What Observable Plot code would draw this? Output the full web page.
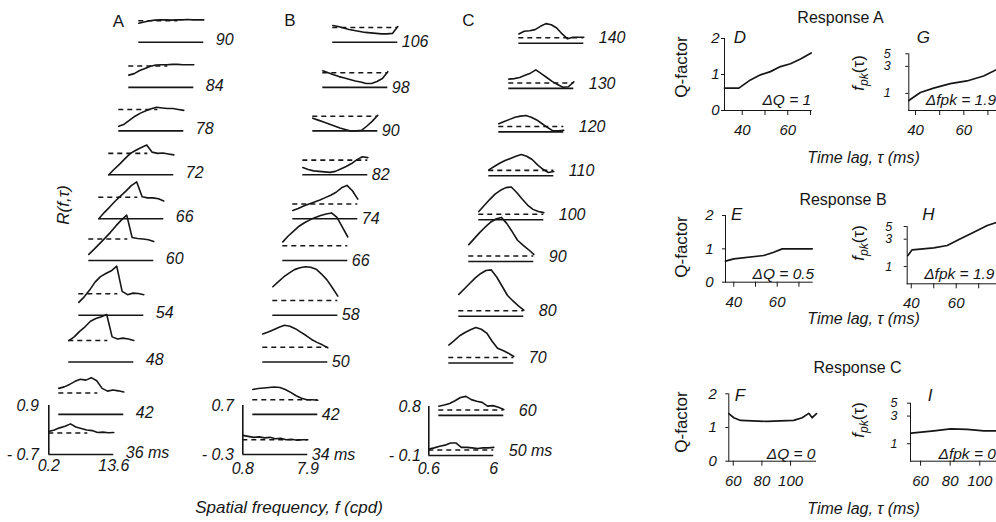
<!DOCTYPE html>
<html><head><meta charset="utf-8">
<script src="https://cdn.jsdelivr.net/npm/d3@7"></script>
<script src="https://cdn.jsdelivr.net/npm/@observablehq/plot@0.6"></script>
<style>
html,body{margin:0;padding:0;background:#fff;overflow:hidden}
#chart{position:relative;width:996px;height:522px;overflow:hidden;font-family:"Liberation Sans",Arial,Helvetica,sans-serif;color:#161616;background:#fff}
#chart svg{position:absolute;left:0;top:0}
.lbl{position:absolute;white-space:nowrap;line-height:1}
.lbl sub{font-size:0.72em;vertical-align:-0.3em}
</style></head><body><div id="chart"></div>
<script>
// ---------- data: stacked spatial-frequency tuning curves R(f,τ) ----------
// each trace: 13 samples across the frequency range (low -> high)
const lagsA = [36, 42, 48, 54, 60, 66, 72, 78, 84, 90];
const tracesA = [
  [0.05, 0.1, 0.17, 0.22, 0.3, 0.2, 0.15, 0.1, 0.08, 0.02, 0.03, 0.01, 0.02],
  [0.15, 0.2, 0.28, 0.38, 0.45, 0.42, 0.5, 0.4, 0.15, 0.06, 0.1, 0.07, 0.03],
  [0.0, 0.12, 0.3, 0.45, 0.63, 0.72, 0.78, 0.85, 0.12, 0.05, 0.08, 0.05, 0.0],
  [-0.28, -0.1, 0.12, 0.38, 0.56, 0.66, 0.75, 0.9, 0.08, -0.03, 0.02, 0.01, -0.03],
  [-0.5, -0.33, -0.15, 0.03, 0.22, 0.43, 0.62, 0.78, 0.05, 0.02, 0.0, -0.02, -0.08],
  [-0.7, -0.5, -0.32, -0.13, 0.04, 0.2, 0.38, 0.5, 0.02, -0.02, -0.02, -0.05, -0.12],
  [-0.7, -0.52, -0.35, -0.17, 0.0, 0.1, 0.19, 0.27, 0.04, 0.0, 0.01, -0.02, -0.05],
  [-0.55, -0.48, -0.35, -0.22, -0.12, -0.04, 0.02, 0.07, 0.05, 0.03, 0.03, 0.0, -0.03],
  [-0.3, -0.25, -0.15, -0.08, -0.01, 0.03, 0.04, 0.04, 0.05, 0.05, 0.04, 0.04, 0.04],
  [-0.08, -0.04, 0.0, 0.02, 0.03, 0.03, 0.02, 0.03, 0.03, 0.04, 0.03, 0.03, 0.03]
];
const rangeA = [-0.7, 0.9];
const freqA = ["0.2", "13.6"];

const lagsB = [34, 42, 50, 58, 66, 74, 82, 90, 98, 106];
const tracesB = [
  [0.09, 0.07, 0.05, 0.06, 0.04, 0.05, 0.02, 0.03, 0.0, 0.01, -0.01, 0.0, 0.0],
  [0.21, 0.23, 0.24, 0.25, 0.26, 0.25, 0.21, 0.15, 0.08, 0.03, 0.0, 0.0, -0.01],
  [0.27, 0.31, 0.36, 0.41, 0.45, 0.43, 0.38, 0.31, 0.24, 0.16, 0.1, 0.05, -0.01],
  [0.28, 0.38, 0.48, 0.56, 0.63, 0.67, 0.69, 0.68, 0.64, 0.54, 0.42, 0.26, 0.09],
  [0.08, 0.2, 0.3, 0.4, 0.47, 0.53, 0.58, 0.62, 0.65, 0.67, 0.58, 0.38, 0.18],
  [-0.13, -0.09, -0.04, 0.0, 0.04, 0.08, 0.13, 0.18, 0.24, 0.33, 0.38, 0.27, 0.1],
  [-0.15, -0.19, -0.22, -0.23, -0.24, -0.25, -0.23, -0.18, -0.13, -0.07, 0.01, 0.07, 0.05],
  [-0.04, -0.08, -0.12, -0.16, -0.2, -0.24, -0.27, -0.3, -0.3, -0.29, -0.2, -0.1, 0.02],
  [0.04, 0.0, -0.04, -0.08, -0.11, -0.14, -0.17, -0.19, -0.22, -0.22, -0.18, -0.12, 0.02],
  [0.04, 0.02, -0.01, -0.04, -0.06, -0.08, -0.1, -0.11, -0.12, -0.13, -0.13, -0.12, 0.02]
];
const rangeB = [-0.3, 0.7];
const freqB = ["0.8", "7.9"];

const lagsC = [50, 60, 70, 80, 90, 100, 110, 120, 130, 140];
const tracesC = [
  [0.02, 0.04, 0.07, 0.09, 0.13, 0.13, 0.05, 0.05, 0.04, 0.03, 0.04, 0.04, 0.05],
  [0.07, 0.09, 0.12, 0.17, 0.23, 0.25, 0.19, 0.16, 0.14, 0.07, 0.08, 0.05, 0.01],
  [0.23, 0.31, 0.4, 0.46, 0.51, 0.55, 0.52, 0.45, 0.3, 0.17, 0.13, 0.08, 0.02],
  [0.3, 0.4, 0.5, 0.6, 0.68, 0.74, 0.75, 0.62, 0.45, 0.28, 0.18, 0.09, 0.01],
  [0.21, 0.32, 0.43, 0.53, 0.62, 0.68, 0.71, 0.6, 0.45, 0.29, 0.2, 0.12, 0.03],
  [0.05, 0.16, 0.27, 0.37, 0.44, 0.49, 0.5, 0.4, 0.28, 0.17, 0.09, 0.05, 0.03],
  [0.01, 0.07, 0.13, 0.18, 0.22, 0.26, 0.29, 0.26, 0.2, 0.1, 0.02, -0.04, -0.02],
  [0.05, 0.09, 0.13, 0.17, 0.19, 0.2, 0.17, 0.12, 0.05, -0.02, -0.08, -0.08, -0.07],
  [0.07, 0.08, 0.1, 0.14, 0.18, 0.24, 0.17, 0.1, 0.03, -0.03, -0.08, -0.07, 0.02],
  [0.07, 0.12, 0.13, 0.15, 0.21, 0.26, 0.24, 0.18, 0.07, -0.02, 0.01, 0.01, 0.01]
];
const rangeC = [-0.1, 0.8];
const freqC = ["0.6", "6"];

// vertical stacking of the rows, in multiples of the scale-bar height
const rowLift = [0, 0.818, 1.888, 2.843, 3.959, 4.812, 5.708, 6.604, 7.492, 8.414];

// ---------- data: summary panels D–I ----------
const lagD = [32.2, 38.5, 43.6, 48, 52.4, 56.8, 61.2, 65.6, 70.3];
const qD   = [0.62, 0.62, 0.85, 0.99, 1.08, 1.22, 1.3, 1.43, 1.6];
const lagE = [36.2, 40, 53.8, 58.4, 62.3, 76.1];
const qE   = [0.63, 0.7, 0.8, 0.9, 1.0, 1.0];
const lagF = [56.9, 60.4, 65.1, 83.7, 102.2, 108.1, 112.7, 115.1, 118.1];
const qF   = [1.41, 1.29, 1.21, 1.18, 1.21, 1.29, 1.42, 1.29, 1.41];
const lagG = [37.2, 42, 47.5, 54.4, 61.3, 68.2, 73.7, 76];
const fpkG = [0.75, 1.04, 1.24, 1.49, 1.66, 2.03, 2.65, 2.85];
const lagH = [38.5, 40.4, 50, 56, 61.9, 67.8, 73.8, 78.2];
const fpkH = [1.56, 1.96, 2.12, 2.33, 3.05, 3.97, 5.2, 5.94];
const lagI = [53.7, 69, 80.3, 91.5, 102.8, 111.8, 114];
const fpkI = [1.52, 1.67, 1.8, 1.77, 1.67, 1.67, 1.65];
const deltaQ = ["ΔQ = 1", "ΔQ = 0.5", "ΔQ = 0"];
const deltaFpk = ["Δfpk = 1.9", "Δfpk = 1.9", "Δfpk = 0"];
const responses = ["Response A", "Response B", "Response C"];

// ---------- rendering ----------
const W = 996, H = 522;
const INK = "#161616";
const FONT = '"Liberation Sans", Arial, Helvetica, sans-serif';
const BAR = 49;          // px height of the R scale bar
const TRACE = 65, STEP = 10;
const chart = document.getElementById("chart");

function column({lags, traces, range, freq, baseX, baseY, gap, labelDy, dashFrac, yLabDx, xLabDy}) {
  const [rMin, rMax] = range;
  const span = rMax - rMin;
  const n = traces[0].length;
  const shift = STEP / TRACE;
  const pts = [], rows = [];
  traces.forEach((tr, k) => {
    const lift = rowLift[k] * span;
    tr.forEach((r, i) => pts.push({k, x: i / (n - 1) + k * shift, y: lift + r}));
    rows.push({k, lag: lags[k], x1: k * shift, x2: 1 + k * shift, xd: dashFrac + k * shift, base: lift + rMin, zero: lift});
  });
  const yTop = rMin + baseY / BAR * span;
  const svg = Plot.plot({
    width: W, height: H,
    marginLeft: baseX, marginRight: W - baseX - TRACE - 9 * STEP,
    marginTop: 0, marginBottom: H - baseY,
    x: {domain: [0, 1 + 9 * shift], axis: null},
    y: {domain: [rMin, yTop], axis: null},
    style: {background: "transparent", overflow: "visible", fontFamily: FONT, fontSize: "16px", color: INK},
    marks: [
      Plot.ruleY(rows, {x1: "x1", x2: "x2", y: "base", stroke: INK, strokeWidth: 1.6}),
      Plot.ruleY(rows, {x1: "x1", x2: "xd", y: "zero", stroke: INK, strokeWidth: 1.6, strokeDasharray: "5,4"}),
      Plot.line(pts, {x: "x", y: "y", z: "k", stroke: INK, strokeWidth: 1.6, curve: "linear"}),
      Plot.ruleX([{x: 0, y1: rMin, y2: rMax}], {x: "x", y1: "y1", y2: "y2", stroke: INK, strokeWidth: 1.6}),
      Plot.text(rows, {x: "x2", y: "base", text: d => d.k === 0 ? d.lag + " ms" : String(d.lag),
        dx: gap, dy: labelDy, textAnchor: "start", fontStyle: "italic", fill: INK}),
      Plot.text([{v: rMax}, {v: rMin}], {x: () => 0, y: "v",
        text: d => d.v < 0 ? "- " + Math.abs(d.v) : String(d.v), dx: yLabDx, textAnchor: "end", fontStyle: "italic", fill: INK}),
      Plot.text(freq.map((t, i) => ({t, x: i, y: rMin})), {x: "x", y: "y", text: "t", dy: xLabDy, fontStyle: "italic", fill: INK})
    ]
  });
  chart.appendChild(svg);
}

column({lags: lagsA, traces: tracesA, range: rangeA, freq: freqA, baseX: 48.3, baseY: 454, gap: 12, labelDy: -2, dashFrac: 0.6, yLabDx: -10, xLabDy: 11});
column({lags: lagsB, traces: tracesB, range: rangeB, freq: freqB, baseX: 242.3, baseY: 454, gap: 4, labelDy: 0, dashFrac: 1, yLabDx: -9, xLabDy: 14});
column({lags: lagsC, traces: tracesC, range: rangeC, freq: freqC, baseX: 428.3, baseY: 455, gap: 15, labelDy: -5, dashFrac: 1, yLabDx: -8, xLabDy: 13});

function panel({lag, val, frame, xDomain, yDomain, yType, xTicks, xShown, yTicks, yGap, tickFont, delta, dAnchor, dDx, dDy}) {
  const [x0, y0, x1, y1] = frame;
  const svg = Plot.plot({
    width: W, height: H,
    marginLeft: x0, marginRight: W - x1, marginTop: y0, marginBottom: H - y1,
    x: {domain: xDomain, ticks: xTicks, tickSize: 5, tickPadding: 9, line: true, label: null,
        tickFormat: d => xShown.includes(d) ? String(d) : ""},
    y: {domain: yDomain, type: yType, ticks: yTicks, tickSize: 3, tickPadding: yGap - 3, line: true, label: null,
        tickFormat: d => String(d)},
    style: {background: "transparent", overflow: "visible", fontFamily: FONT, fontSize: "15px", fontStyle: "italic", color: INK},
    marks: [
      Plot.line(lag.map((t, i) => ({t, v: val[i]})), {x: "t", y: "v", stroke: INK, strokeWidth: 1.7}),
      Plot.text([delta], {frameAnchor: dAnchor, text: d => d, dx: dDx, dy: dDy, lineAnchor: "middle", fontSize: 15.5, fontStyle: "italic", fill: INK})
    ]
  });
  // smaller tick labels on the log axes, where 3 and 5 sit close together
  if (tickFont) d3.select(svg).selectAll("g[aria-label='y-axis tick label'] text, g[aria-label='y-axis'] text").style("font-size", tickFont + "px");
  chart.appendChild(svg);
}

panel({lag: lagD, val: qD, frame: [724, 38, 810.7, 110], xDomain: [32.2, 70.3], yDomain: [0, 2], yType: "linear",
  xTicks: [40, 50, 60, 70], xShown: [40, 60], yTicks: [0, 1, 2], yGap: 5, delta: deltaQ[0], dAnchor: "bottom-right", dDx: 0, dDy: -10});
panel({lag: lagE, val: qE, frame: [725, 215, 811.7, 281.7], xDomain: [36.2, 76.1], yDomain: [0, 2], yType: "linear",
  xTicks: [40, 50, 60, 70], xShown: [40, 60], yTicks: [0, 1, 2], yGap: 12, delta: deltaQ[1], dAnchor: "bottom-right", dDx: 2, dDy: -8});
panel({lag: lagF, val: qF, frame: [728.3, 393.3, 815, 460.7], xDomain: [56.9, 117.4], yDomain: [0, 2], yType: "linear",
  xTicks: [60, 80, 100], xShown: [60, 80, 100], yTicks: [0, 1, 2], yGap: 12, delta: deltaQ[2], dAnchor: "bottom-right", dDx: 0, dDy: -7});
panel({lag: lagG, val: fpkG, frame: [908.3, 53.3, 1000, 110], xDomain: [37.2, 75.2], yDomain: [0.5, 5], yType: "log",
  xTicks: [40, 50, 60, 70], xShown: [40, 60], yTicks: [1, 3, 5], yGap: 18, tickFont: 12.5, delta: deltaFpk[0], dAnchor: "bottom-left", dDx: 17, dDy: -10});
panel({lag: lagH, val: fpkH, frame: [906.7, 226, 1000, 283.3], xDomain: [38.2, 79.7], yDomain: [0.5, 5], yType: "log",
  xTicks: [40, 50, 60, 70], xShown: [40, 60], yTicks: [1, 3, 5], yGap: 15, tickFont: 12.5, delta: deltaFpk[1], dAnchor: "bottom-left", dDx: 17, dDy: -10});
panel({lag: lagI, val: fpkI, frame: [910, 402.7, 1000, 460.7], xDomain: [53.2, 114], yDomain: [0.5, 5], yType: "log",
  xTicks: [60, 80, 100], xShown: [60, 80, 100], yTicks: [1, 3, 5], yGap: 13, tickFont: 12.5, delta: deltaFpk[2], dAnchor: "bottom-left", dDx: 28, dDy: -7});

// ---------- text labels ----------
function label(html, x, y, {size = 16, italic = false, rotate = 0} = {}) {
  const d = document.createElement("div");
  d.className = "lbl";
  d.innerHTML = html;
  d.style.left = x + "px";
  d.style.top = y + "px";
  d.style.fontSize = size + "px";
  if (italic) d.style.fontStyle = "italic";
  d.style.transform = `translate(-50%,-50%) rotate(${rotate}deg)`;
  chart.appendChild(d);
}
label("A", 118.5, 21, {size: 17});
label("B", 290, 20, {size: 17});
label("C", 468.5, 20, {size: 17});
label("R(f,τ)", 63, 205, {size: 17, italic: true, rotate: -90});
label("Spatial frequency, f (cpd)", 289, 507, {size: 17, italic: true});

const rowsY = [[18, 37, 66.7, 73, 158], [200, 213.5, 247, 243, 319], [368.3, 395, 422, 420, 509]];
const letters = [["D", "G"], ["E", "H"], ["F", "I"]];
const letterX = [[740, 923.3], [736.7, 928.3], [740, 930]];
const titleX = [840.5, 843, 857.5];
rowsY.forEach(([ty, ly, qy, fy, tly], i) => {
  label(responses[i], titleX[i], ty, {size: 16});
  label(letters[i][0], letterX[i][0], ly, {size: 17, italic: true});
  label(letters[i][1], letterX[i][1], ly, {size: 17, italic: true});
  label("Q-factor", 680.5, qy, {size: 17, italic: false, rotate: -90});
  label("<i>f</i><sub><i>pk</i></sub>(τ)", 860, fy, {size: 17, rotate: -90});
  label("<i>Time lag, τ (ms)</i>", 863.5, tly, {size: 16});
});
</script></body></html>
